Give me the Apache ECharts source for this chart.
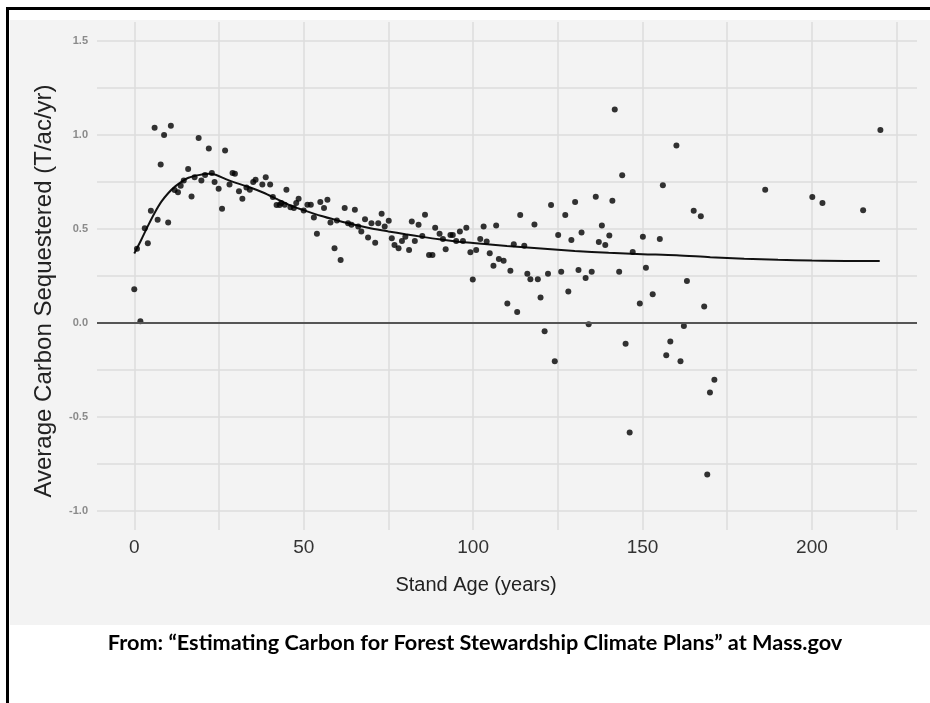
<!DOCTYPE html>
<html><head><meta charset="utf-8">
<script src="https://cdn.jsdelivr.net/npm/echarts@6/dist/echarts.min.js"></script>
<style>html,body{margin:0;padding:0;background:#fff}#c{width:930px;height:703px}</style>
</head><body><div id="c"></div>
<script>
const pointAge = [0,1.8,0.8,3.1,4.0,4.9,6.0,6.9,7.8,8.8,10.0,10.8,11.9,12.9,13.7,14.6,15.9,16.9,17.8,19.0,19.8,20.9,22.0,22.9,23.7,24.9,25.9,26.8,28.1,29.0,29.7,30.9,31.9,33.1,34.1,35.1,35.8,37.8,38.8,40.1,40.9,42.0,42.9,44.9,46.1,47.1,48.5,
43.4,44.4,47.8,50.0,51.1,52.1,53.0,53.9,54.9,56.0,57.0,57.9,59.1,59.8,60.9,62.1,63.1,64.1,65.1,66.1,67.0,68.1,69.0,70.0,71.1,72.0,73.0,73.9,75.1,76.0,76.8,78.0,79.0,80.0,81.1,81.9,82.8,83.9,85.0,85.8,87.0,88.0,88.8,90.1,91.1,91.9,93.3,94.0,95.0,96.1,97.0,98.0,99.2,99.9,100.9,102.1,103.1,104.0,104.9,106.0,106.8,107.6,
109.0,110.1,111.0,112.0,113.0,113.9,115.1,116.0,116.9,118.1,119.1,119.9,121.1,122.1,123.0,124.1,125.1,126.0,127.2,128.1,129.0,130.1,131.1,132.0,133.2,134.1,135.0,136.2,137.1,138.0,139.0,140.2,141.1,141.8,143.1,144.0,145.0,146.2,147.1,149.2,150.1,151.0,153.0,155.1,156.0,157.0,158.2,160.0,161.2,162.2,163.1,165.1,167.2,168.2,169.1,169.9,171.2,186.2,200.1,203.1,215.1,220.2];
const pointValue = [0.18,0.01,0.395,0.504,0.424,0.597,1.038,0.549,0.842,0.999,0.534,1.049,0.707,0.695,0.73,0.757,0.819,0.672,0.775,0.983,0.757,0.787,0.928,0.798,0.75,0.714,0.607,0.917,0.736,0.798,0.793,0.70,0.661,0.721,0.709,0.75,0.762,0.736,0.775,0.736,0.67,0.627,0.627,0.709,0.616,0.611,0.661,
0.638,0.629,0.638,0.598,0.629,0.629,0.561,0.474,0.643,0.611,0.655,0.534,0.397,0.545,0.335,0.611,0.531,0.522,0.602,0.513,0.486,0.552,0.454,0.531,0.427,0.531,0.581,0.513,0.543,0.451,0.415,0.397,0.436,0.459,0.388,0.54,0.436,0.522,0.463,0.575,0.362,0.362,0.507,0.474,0.447,0.392,0.468,0.468,0.436,0.486,0.436,0.507,0.376,0.232,0.388,0.447,0.513,0.433,0.371,0.304,0.518,0.34,
0.331,0.104,0.278,0.419,0.059,0.574,0.411,0.262,0.233,0.524,0.233,0.136,-0.044,0.262,0.627,-0.203,0.468,0.272,0.574,0.168,0.442,0.643,0.282,0.481,0.24,-0.007,0.272,0.671,0.431,0.518,0.415,0.465,0.65,1.135,0.272,0.785,-0.11,-0.582,0.378,0.104,0.458,0.294,0.153,0.447,0.732,-0.171,-0.098,0.944,-0.203,-0.016,0.223,0.597,0.568,0.088,-0.805,-0.369,-0.302,0.709,0.67,0.638,0.6,1.026];
const trendAge = [0,2,4,6,8,10,12,14,16,18,20,22,24,27,30,34,38,42,46,50,55,60,65,70,75,80,85,90,95,100,110,120,130,140,150,160,170,180,190,200,210,220];
const trendValue = [0.37,0.44,0.515,0.585,0.645,0.69,0.725,0.752,0.772,0.783,0.79,0.794,0.788,0.765,0.745,0.722,0.694,0.66,0.625,0.6,0.57,0.545,0.522,0.503,0.487,0.472,0.458,0.445,0.434,0.426,0.41,0.396,0.383,0.373,0.366,0.36,0.35,0.342,0.336,0.332,0.33,0.33];
const xGridTicks = [0,25,50,75,100,125,150,175,200,225];
const xLabelTicks = [0,50,100,150,200];
const yGridTicks = [-1,-0.75,-0.5,-0.25,0,0.25,0.5,0.75,1,1.25,1.5];
const yLabelTicks = [-1,-0.5,0,0.5,1,1.5];
const xTitle = 'Stand Age (years)';
const yTitle = 'Average Carbon Sequestered (T/ac/yr)';
const caption = 'From: \u201CEstimating Carbon for Forest Stewardship Climate Plans\u201D at Mass.gov';

const chart = echarts.init(document.getElementById('c'), null, {renderer:'canvas'});
const pts = pointAge.map((a,i)=>[a, pointValue[i]]);
const trend = trendAge.map((a,i)=>[a, trendValue[i]]);
chart.setOption({
  animation:false,
  backgroundColor:'#ffffff',
  graphic:[
    {type:'rect', z:-100, shape:{x:10,y:20,width:920,height:605}, style:{fill:'#f3f3f3'}},
    {type:'rect', z:100, shape:{x:6,y:7,width:3,height:696}, style:{fill:'#000'}},
    {type:'rect', z:100, shape:{x:6,y:7,width:924,height:3}, style:{fill:'#000'}},
    {type:'text', z:100, x:44, y:291, rotation:Math.PI/2,
      style:{text:yTitle, x:0, y:0, align:'center', verticalAlign:'middle', fill:'#222', font:'24px "Liberation Sans", Arial, sans-serif'}},
    {type:'text', z:100, x:476, y:585,
      style:{text:xTitle, x:0, y:0, align:'center', verticalAlign:'middle', fill:'#222', font:'20px "Liberation Sans", Arial, sans-serif'}},
    {type:'text', z:100, x:475, y:643,
      style:{text:caption, x:0, y:0, align:'center', verticalAlign:'middle', fill:'#000', font:'bold 21.7px Lato, "Noto Sans", sans-serif'}}
  ],
  grid:{left:97, right:13, top:22, bottom:173},
  xAxis:{type:'value', min:-11, max:231,
    axisLine:{show:false},
    axisTick:{show:false, customValues:xGridTicks},
    axisLabel:{customValues:xLabelTicks, fontSize:19, color:'#333', margin:8, fontFamily:'"Liberation Sans", Arial, sans-serif'},
    splitLine:{show:true, lineStyle:{color:'#dcdcdc', width:1.5}}
  },
  yAxis:{type:'value', min:-1.1, max:1.6,
    axisLine:{show:false},
    axisTick:{show:false, customValues:yGridTicks},
    axisLabel:{customValues:yLabelTicks, formatter:v=>v.toFixed(1), fontSize:11, fontWeight:'bold', color:'#8a8a8a', margin:9, fontFamily:'"Liberation Sans", Arial, sans-serif'},
    splitLine:{show:true, lineStyle:{color:'#dcdcdc', width:1.5}}
  },
  series:[
    {type:'line', data:trend, showSymbol:false, smooth:0.3, lineStyle:{color:'#111', width:2}, z:3,
      markLine:{silent:true, symbol:['none','none'], label:{show:false}, lineStyle:{color:'#555', width:2, type:'solid'}, data:[{yAxis:0}]}},
    {type:'scatter', data:pts, symbolSize:6, itemStyle:{color:'#000'}, z:4}
  ]
});
</script></body></html>
